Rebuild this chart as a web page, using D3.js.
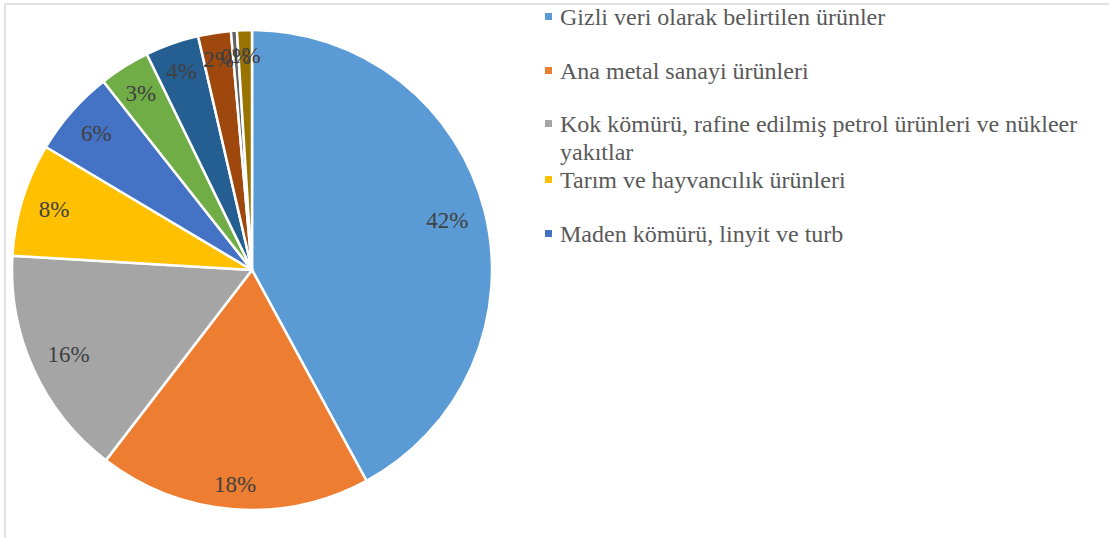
<!DOCTYPE html>
<html>
<head>
<meta charset="utf-8">
<script src="https://cdn.jsdelivr.net/npm/d3@7"></script>
<style>
  body { margin: 0; background: #fff; }
  svg { display: block; }
  text { font-family: "Liberation Serif", "Times New Roman", serif; }
</style>
</head>
<body>
<div id="chart"></div>
<script>
// categories (clockwise from 12 o'clock)
const categories = [
  'Gizli veri olarak belirtilen ürünler',
  'Ana metal sanayi ürünleri',
  'Kok kömürü, rafine edilmiş petrol ürünleri ve nükleer yakıtlar',
  'Tarım ve hayvancılık ürünleri',
  'Maden kömürü, linyit ve turb',
  'Diğer 1',
  'Diğer 2',
  'Diğer 3',
  'Diğer 4',
  'Diğer 5'
];
// share values
const values = [42.0, 18.3, 15.5, 7.6, 5.8, 3.4, 3.6, 2.2, 0.4, 1.0];
// legend only shows the first five entries (rest cut off)
const legendLines = [
  ['Gizli veri olarak belirtilen ürünler'],
  ['Ana metal sanayi ürünleri'],
  ['Kok kömürü, rafine edilmiş petrol ürünleri ve nükleer', 'yakıtlar'],
  ['Tarım ve hayvancılık ürünleri'],
  ['Maden kömürü, linyit ve turb']
];

const colors = ['#5B9BD5', '#ED7D31', '#A5A5A5', '#FFC000', '#4472C4',
  '#70AD47', '#255E91', '#9E480E', '#636363', '#997300'];

const width = 1109;
const height = 538;
const cx = 252, cy = 270, radius = 240;

const svg = d3.select('#chart')
  .append('svg')
  .attr('width', width)
  .attr('height', height);

// chart area border (only top/left visible)
svg.append('rect')
  .attr('x', 5).attr('y', 4)
  .attr('width', width + 10).attr('height', height + 10)
  .attr('fill', '#fff')
  .attr('stroke', '#d9d9d9')
  .attr('stroke-width', 1.5);

const total = d3.sum(values);
const pie = d3.pie().sort(null).value(d => d);
const arcs = pie(values);
const arc = d3.arc().innerRadius(0).outerRadius(radius);

const g = svg.append('g')
  .attr('transform', `translate(${cx}, ${cy})`);

g.selectAll('path')
  .data(arcs)
  .enter()
  .append('path')
  .attr('d', arc)
  .attr('fill', (d, i) => colors[i])
  .attr('stroke', '#fff')
  .attr('stroke-width', 2.5)
  .attr('stroke-linejoin', 'round');

// labels: keep the text box a fixed distance inside the rim
const labelGap = 16;
const halfH = 8;
g.selectAll('text.lbl')
  .data(arcs)
  .enter()
  .append('text')
  .attr('class', 'lbl')
  .attr('text-anchor', 'middle')
  .attr('dy', '0.35em')
  .attr('fill', '#404040')
  .attr('font-size', 23)
  .text(d => Math.round(d.value / total * 100) + '%')
  .attr('transform', function (d) {
    const a = (d.startAngle + d.endAngle) / 2;
    const ux = Math.sin(a), uy = -Math.cos(a);
    const w = this.getComputedTextLength();
    const support = Math.abs(ux) * w / 2 + Math.abs(uy) * halfH;
    const r = radius - labelGap - support;
    return `translate(${ux * r}, ${uy * r})`;
  });

// legend
const legendY = [17, 71, 124, 180, 234];
const legend = svg.append('g').attr('class', 'legend');

legendLines.forEach((lines, i) => {
  const y = legendY[i];
  legend.append('rect')
    .attr('x', 545).attr('y', y - 4)
    .attr('width', 7).attr('height', 7)
    .attr('fill', colors[i]);
  lines.forEach((t, j) => {
    legend.append('text')
      .attr('x', 560)
      .attr('y', y + j * 28)
      .attr('dy', '0.35em')
      .attr('fill', '#595959')
      .attr('font-size', 24)
      .text(t);
  });
});
</script>
</body>
</html>
